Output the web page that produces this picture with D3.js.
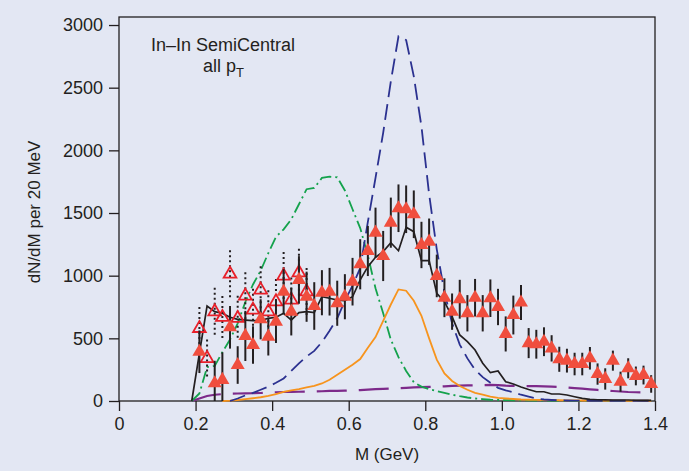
<!DOCTYPE html>
<html>
<head>
<meta charset="utf-8">
<script src="https://cdn.jsdelivr.net/npm/d3@7"></script>
<style>
  html, body { margin: 0; padding: 0; background: #e3e7f3; }
  svg { display: block; }
  text { font-family: "Liberation Sans", Arial, sans-serif; fill: #231f20; }
</style>
</head>
<body>
<svg id="chart" width="689" height="471"></svg>
<script>
// axis ticks
const xTicks = [0, 0.2, 0.4, 0.6, 0.8, 1.0, 1.2, 1.4]
const xTickLabels = ["0", "0.2", "0.4", "0.6", "0.8", "1.0", "1.2", "1.4"]
const yTicks = [0, 500, 1000, 1500, 2000, 2500, 3000]

// measured points (filled triangles)
const dataMass = [0.21,0.25,0.27,0.29,0.31,0.33,0.35,0.37,0.39,0.41,0.43,0.45,0.47,0.49,0.51,0.53,0.55,0.57,0.59,0.61,
  0.63,0.65,0.67,0.69,0.71,0.73,0.75,0.77,0.79,0.81,0.83,0.85,0.87,0.89,0.91,0.93,0.95,0.97,0.99,1.01,
  1.03,1.05,1.07,1.09,1.11,1.13,1.15,1.17,1.19,1.21,1.23,1.25,1.27,1.29,1.31,1.33,1.35,1.37,1.39]
const dataYield = [393,141,168,588,287,519,447,652,513,633,872,713,966,832,758,864,872,780,832,952,
  1091,1197,1343,1157,1423,1538,1530,1490,1245,1271,998,824,713,812,700,824,700,820,750,535,
  686,786,462,453,473,420,333,322,295,295,341,215,176,322,154,261,200,207,136]
const dataErr = [170,180,220,170,150,200,150,160,150,170,180,190,190,200,190,180,190,180,180,190,
  200,200,200,200,200,190,190,190,185,185,170,155,145,155,145,150,145,150,145,140,
  155,140,120,115,115,105,100,95,90,90,90,85,85,80,80,80,75,75,70]

// open triangles (low mass, dotted errors)
const openMass = [0.21,0.23,0.25,0.27,0.29,0.31,0.33,0.35,0.37,0.39,0.41,0.43,0.45,0.47,0.49]
const openYield = [580,340,713,668,1013,660,838,726,886,713,793,998,806,1024,872]
const openErr = [170,150,190,170,190,180,190,170,190,170,180,190,180,190,190]

// curve grid
const curveMass = [0.19,0.21,0.23,0.25,0.27,0.29,0.31,0.33,0.35,0.37,0.39,0.41,0.43,0.45,0.47,0.49,0.51,0.53,0.55,0.57,
  0.59,0.61,0.63,0.65,0.67,0.69,0.71,0.73,0.75,0.77,0.79,0.81,0.83,0.85,0.87,0.89,0.91,0.93,0.95,0.97,
  0.99,1.01,1.03,1.05,1.07,1.09,1.11,1.13,1.15,1.17,1.19,1.21,1.23,1.25,1.27,1.29,1.31,1.33,1.35,1.37,1.39]
const sumCurve = [0,380,758,713,700,668,652,646,641,641,660,668,700,646,705,713,705,832,820,805,
  800,832,966,1072,1147,1192,1263,1199,1386,1351,1120,1120,859,793,673,527,473,407,301,226,
  240,154,136,112,92,74,74,56,56,48,34,21,13,10,9,8,8,8,6,5,5]
const rhoCurve = [null,null,null,null,null,0,20,45,65,90,115,145,180,240,300,355,400,470,560,660,
  800,920,1060,1430,1780,2140,2550,2910,2880,2590,2190,1650,1210,870,620,450,340,250,190,145,
  105,85,70,50,35,20,12,8,5,4,3,3,2,2,2,2,2,2,2,2,2]
const broadCurve = [0,60,270,280,390,490,620,790,930,1040,1180,1310,1370,1450,1570,1690,1700,1780,1790,1785,
  1680,1530,1380,1160,900,700,490,350,240,150,115,95,80,65,50,38,28,20,15,10,
  8,7,6,6,5,4,3,3,2,2,1,1,1,1,1,0,0,0,0,0,0]
const omegaCurve = [null,null,null,null,0,3,8,15,22,30,40,55,72,85,95,108,120,140,170,210,
  250,290,335,425,510,640,770,890,880,800,680,500,330,220,160,120,90,65,50,35,
  25,20,16,12,10,9,8,7,6,5,5,4,4,3,3,3,3,2,2,2,2]
const flatCurve = [0,20,40,50,55,58,60,61,62,64,67,70,72,73,74,75,76,78,80,81,
  82,84,87,90,94,97,100,102,105,108,110,112,114,117,120,122,124,125,127,128,
  126,122,120,118,118,118,116,115,112,108,103,98,93,88,84,80,76,72,70,68,66]

const svg = d3.select("#chart")
const x = d3.scaleLinear().domain([0, 1.4]).range([119, 655])
const y = d3.scaleLinear().domain([0, 3064]).range([401, 17])

// frame
svg.append("rect")
  .attr("x", x(0)).attr("y", y(3064))
  .attr("width", x(1.4) - x(0)).attr("height", y(0) - y(3064))
  .attr("fill", "none").attr("stroke", "#231f20").attr("stroke-width", 1.3)

const xAxis = d3.axisBottom(x).tickValues(xTicks)
  .tickFormat((d, i) => xTickLabels[i]).tickSize(10).tickPadding(6)
const yAxis = d3.axisLeft(y).tickValues(yTicks)
  .tickFormat(d3.format("d")).tickSize(10).tickPadding(6)

const gx = svg.append("g").attr("transform", "translate(0," + y(0) + ")").call(xAxis)
const gy = svg.append("g").attr("transform", "translate(" + x(0) + ",0)").call(yAxis)
;[gx, gy].forEach(g => {
  g.select(".domain").remove()
  g.selectAll(".tick line").attr("stroke", "#231f20").attr("stroke-width", 1.3)
  g.selectAll(".tick text").style("font-size", "18px").attr("fill", "#231f20")
    .style("font-family", '"Liberation Sans", Arial, sans-serif')
})

// labels
svg.append("text").attr("x", (x(0) + x(1.4)) / 2).attr("y", 460)
  .attr("text-anchor", "middle").style("font-size", "17px").text("M (GeV)")
svg.append("text").attr("transform", "translate(40,212) rotate(-90)")
  .attr("text-anchor", "middle").style("font-size", "17px").text("dN/dM per 20 MeV")

svg.append("text").attr("x", 151).attr("y", 51).style("font-size", "18px").text("In\u2013In SemiCentral")
const t2 = svg.append("text").attr("x", 203).attr("y", 72).style("font-size", "18px")
t2.append("tspan").text("all p")
t2.append("tspan").attr("dy", 5).style("font-size", "13px").text("T")

// curves
const line = d3.line()
  .defined(d => d[1] != null)
  .x(d => x(d[0])).y(d => y(d[1]))

const curves = [
  {vals: flatCurve, color: "#7d2a8a", dash: "30,12", w: 2.2},
  {vals: broadCurve, color: "#14a24c", dash: "12,4,2,4", w: 1.8},
  {vals: omegaCurve, color: "#f7941d", dash: null, w: 1.8},
  {vals: rhoCurve, color: "#2b3190", dash: "16,7", w: 1.8},
  {vals: sumCurve, color: "#231f20", dash: null, w: 1.7}
]
curves.forEach(c => {
  svg.append("path")
    .datum(curveMass.map((m, i) => [m, c.vals[i]]))
    .attr("d", line)
    .attr("fill", "none")
    .attr("stroke", c.color)
    .attr("stroke-width", c.w)
    .attr("stroke-dasharray", c.dash)
})

// open points with dotted error bars
const openPts = openMass.map((m, i) => ({m: m, v: openYield[i], e: openErr[i]}))
svg.append("g").selectAll("line").data(openPts).enter().append("line")
  .attr("x1", d => x(d.m)).attr("x2", d => x(d.m))
  .attr("y1", d => y(d.v + d.e)).attr("y2", d => y(Math.max(0, d.v - d.e)))
  .attr("stroke", "#231f20").attr("stroke-width", 2).attr("stroke-dasharray", "2,3")
svg.append("g").selectAll("path").data(openPts).enter().append("path")
  .attr("d", d3.symbol().type(d3.symbolTriangle).size(70))
  .attr("transform", d => "translate(" + x(d.m) + "," + y(d.v) + ")")
  .attr("fill", "none").attr("stroke", "#e8202a").attr("stroke-width", 1.8)

// filled points with error bars
const pts = dataMass.map((m, i) => ({m: m, v: dataYield[i], e: dataErr[i]}))
svg.append("g").selectAll("line").data(pts).enter().append("line")
  .attr("x1", d => x(d.m)).attr("x2", d => x(d.m))
  .attr("y1", d => y(d.v + d.e)).attr("y2", d => y(Math.max(0, d.v - d.e)))
  .attr("stroke", "#231f20").attr("stroke-width", 2)
svg.append("g").selectAll("path").data(pts).enter().append("path")
  .attr("d", d3.symbol().type(d3.symbolTriangle).size(85))
  .attr("transform", d => "translate(" + x(d.m) + "," + y(d.v) + ")")
  .attr("fill", "#f04e3e")
</script>
</body>
</html>
